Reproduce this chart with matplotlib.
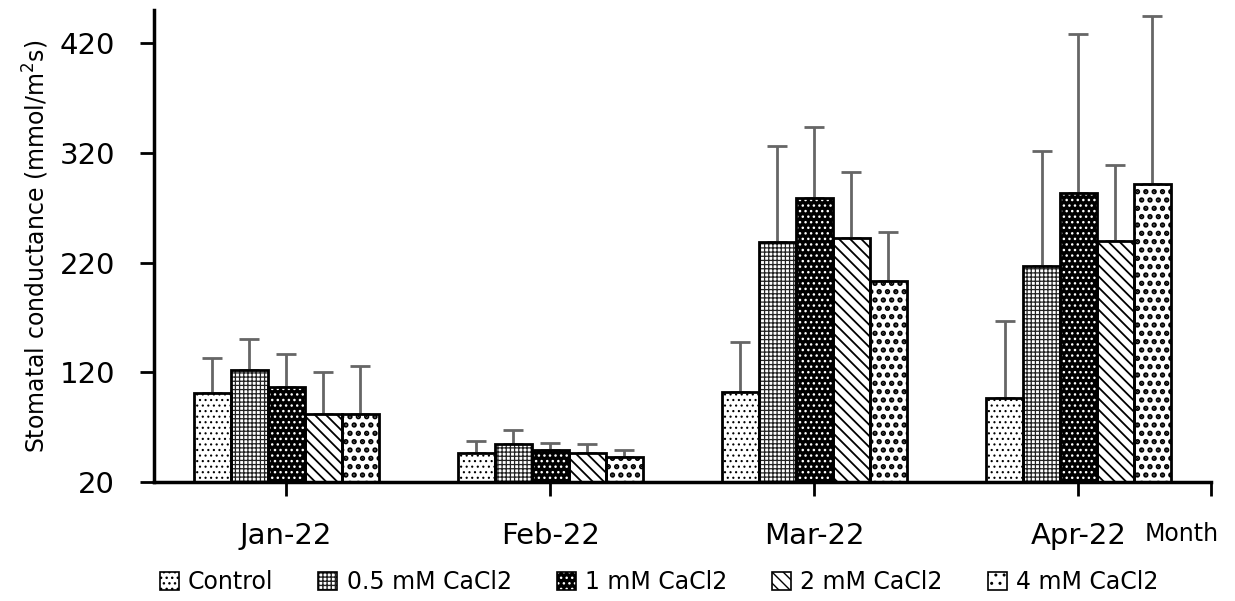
import matplotlib.pyplot as plt
import numpy as np
from matplotlib.patches import Patch
from matplotlib.legend_handler import HandlerTuple

months = ["Jan-22", "Feb-22", "Mar-22", "Apr-22"]
treatments = ["Control", "0.5 mM CaCl2", "1 mM CaCl2", "2 mM CaCl2", "4 mM CaCl2"]

# mean stomatal conductance per treatment, one value per month
control = [101, 46, 102, 97]
cacl_05 = [122, 55, 239, 217]
cacl_1 = [107, 49, 279, 283]
cacl_2 = [82, 46, 242, 240]
cacl_4 = [82, 43, 203, 292]

# upper error (SD) per treatment
err_control = [32, 11, 46, 70]
err_05 = [28, 12, 87, 105]
err_1 = [30, 7, 65, 145]
err_2 = [38, 9, 61, 69]
err_4 = [44, 6, 45, 153]

means = [control, cacl_05, cacl_1, cacl_2, cacl_4]
errs = [err_control, err_05, err_1, err_2, err_4]

# (face, hatch colour, hatch, hatch linewidth)
styles = [
    ("white", "black", "...", 0.8),
    ("white", "#222222", "++++", 0.9),
    ("black", "white", "...", 1.0),
    ("white", "black", "\\\\\\", 1.3),
    ("white", "black", "..", 2.6),
]

plt.rcParams['font.family'] = ['DejaVu Sans']


def hatched(face, hcol, hatch, hlw, **kw):
    with plt.rc_context({'hatch.linewidth': hlw}):
        p = Patch(facecolor=face, edgecolor=hcol, hatch=hatch, linewidth=0, **kw)
    if hasattr(p, "set_hatch_linewidth"):
        p.set_hatch_linewidth(hlw)
    return p


fig = plt.figure(figsize=(12.35, 6.01), dpi=100)
ax = fig.add_axes([0.1247, 0.198, 0.8555, 0.785])

x = np.arange(len(months))
w = 0.14
handles = []
for i, (vals, er) in enumerate(zip(means, errs)):
    pos = x + (i - 2) * w
    face, hcol, hatch, hlw = styles[i]
    with plt.rc_context({'hatch.linewidth': hlw}):
        fill = ax.bar(pos, np.array(vals) - 20, w, bottom=20, color=face,
                      edgecolor=hcol, hatch=hatch, linewidth=0, zorder=2)
    for b in fill:
        if hasattr(b, "set_hatch_linewidth"):
            b.set_hatch_linewidth(hlw)
    ax.bar(pos, np.array(vals) - 20, w, bottom=20, fill=False,
           edgecolor="black", linewidth=2, zorder=3)
    ax.errorbar(pos, vals, yerr=[np.zeros(len(er)), er], fmt="none",
                ecolor="#666666", elinewidth=2, capsize=7, capthick=2, zorder=1)
    handles.append((hatched(face, hcol, hatch, hlw),
                    Patch(fill=False, edgecolor="black", linewidth=1.2)))

ax.set_xlim(-0.5, 3.5)
ax.set_ylim(20, 450)
ax.set_yticks([20, 120, 220, 320, 420])
ax.set_xticks(list(x) + [3.5])
ax.set_xticklabels(months + [""])
ax.tick_params(axis="both", width=2, length=10, direction="out")
ax.tick_params(axis="y", labelsize=21, pad=18)
ax.tick_params(axis="x", labelsize=21, pad=19)

for s in ["top", "right"]:
    ax.spines[s].set_visible(False)
for s in ["left", "bottom"]:
    ax.spines[s].set_linewidth(2.5)

ax.set_ylabel("Stomatal conductance (mmol/m$^2$s)", fontsize=17, labelpad=6)
ax.text(3.39, -0.11, "Month", transform=ax.get_xaxis_transform(), fontsize=17,
        ha="center", va="center")

ax.legend(handles, treatments, handler_map={tuple: HandlerTuple(ndivide=1)},
          loc="center", bbox_to_anchor=(0.478, -0.213), ncol=5, frameon=False,
          fontsize=17, handlelength=0.8, handleheight=0.8, columnspacing=1.9,
          handletextpad=0.4)

fig.savefig("out.png", dpi=100)
